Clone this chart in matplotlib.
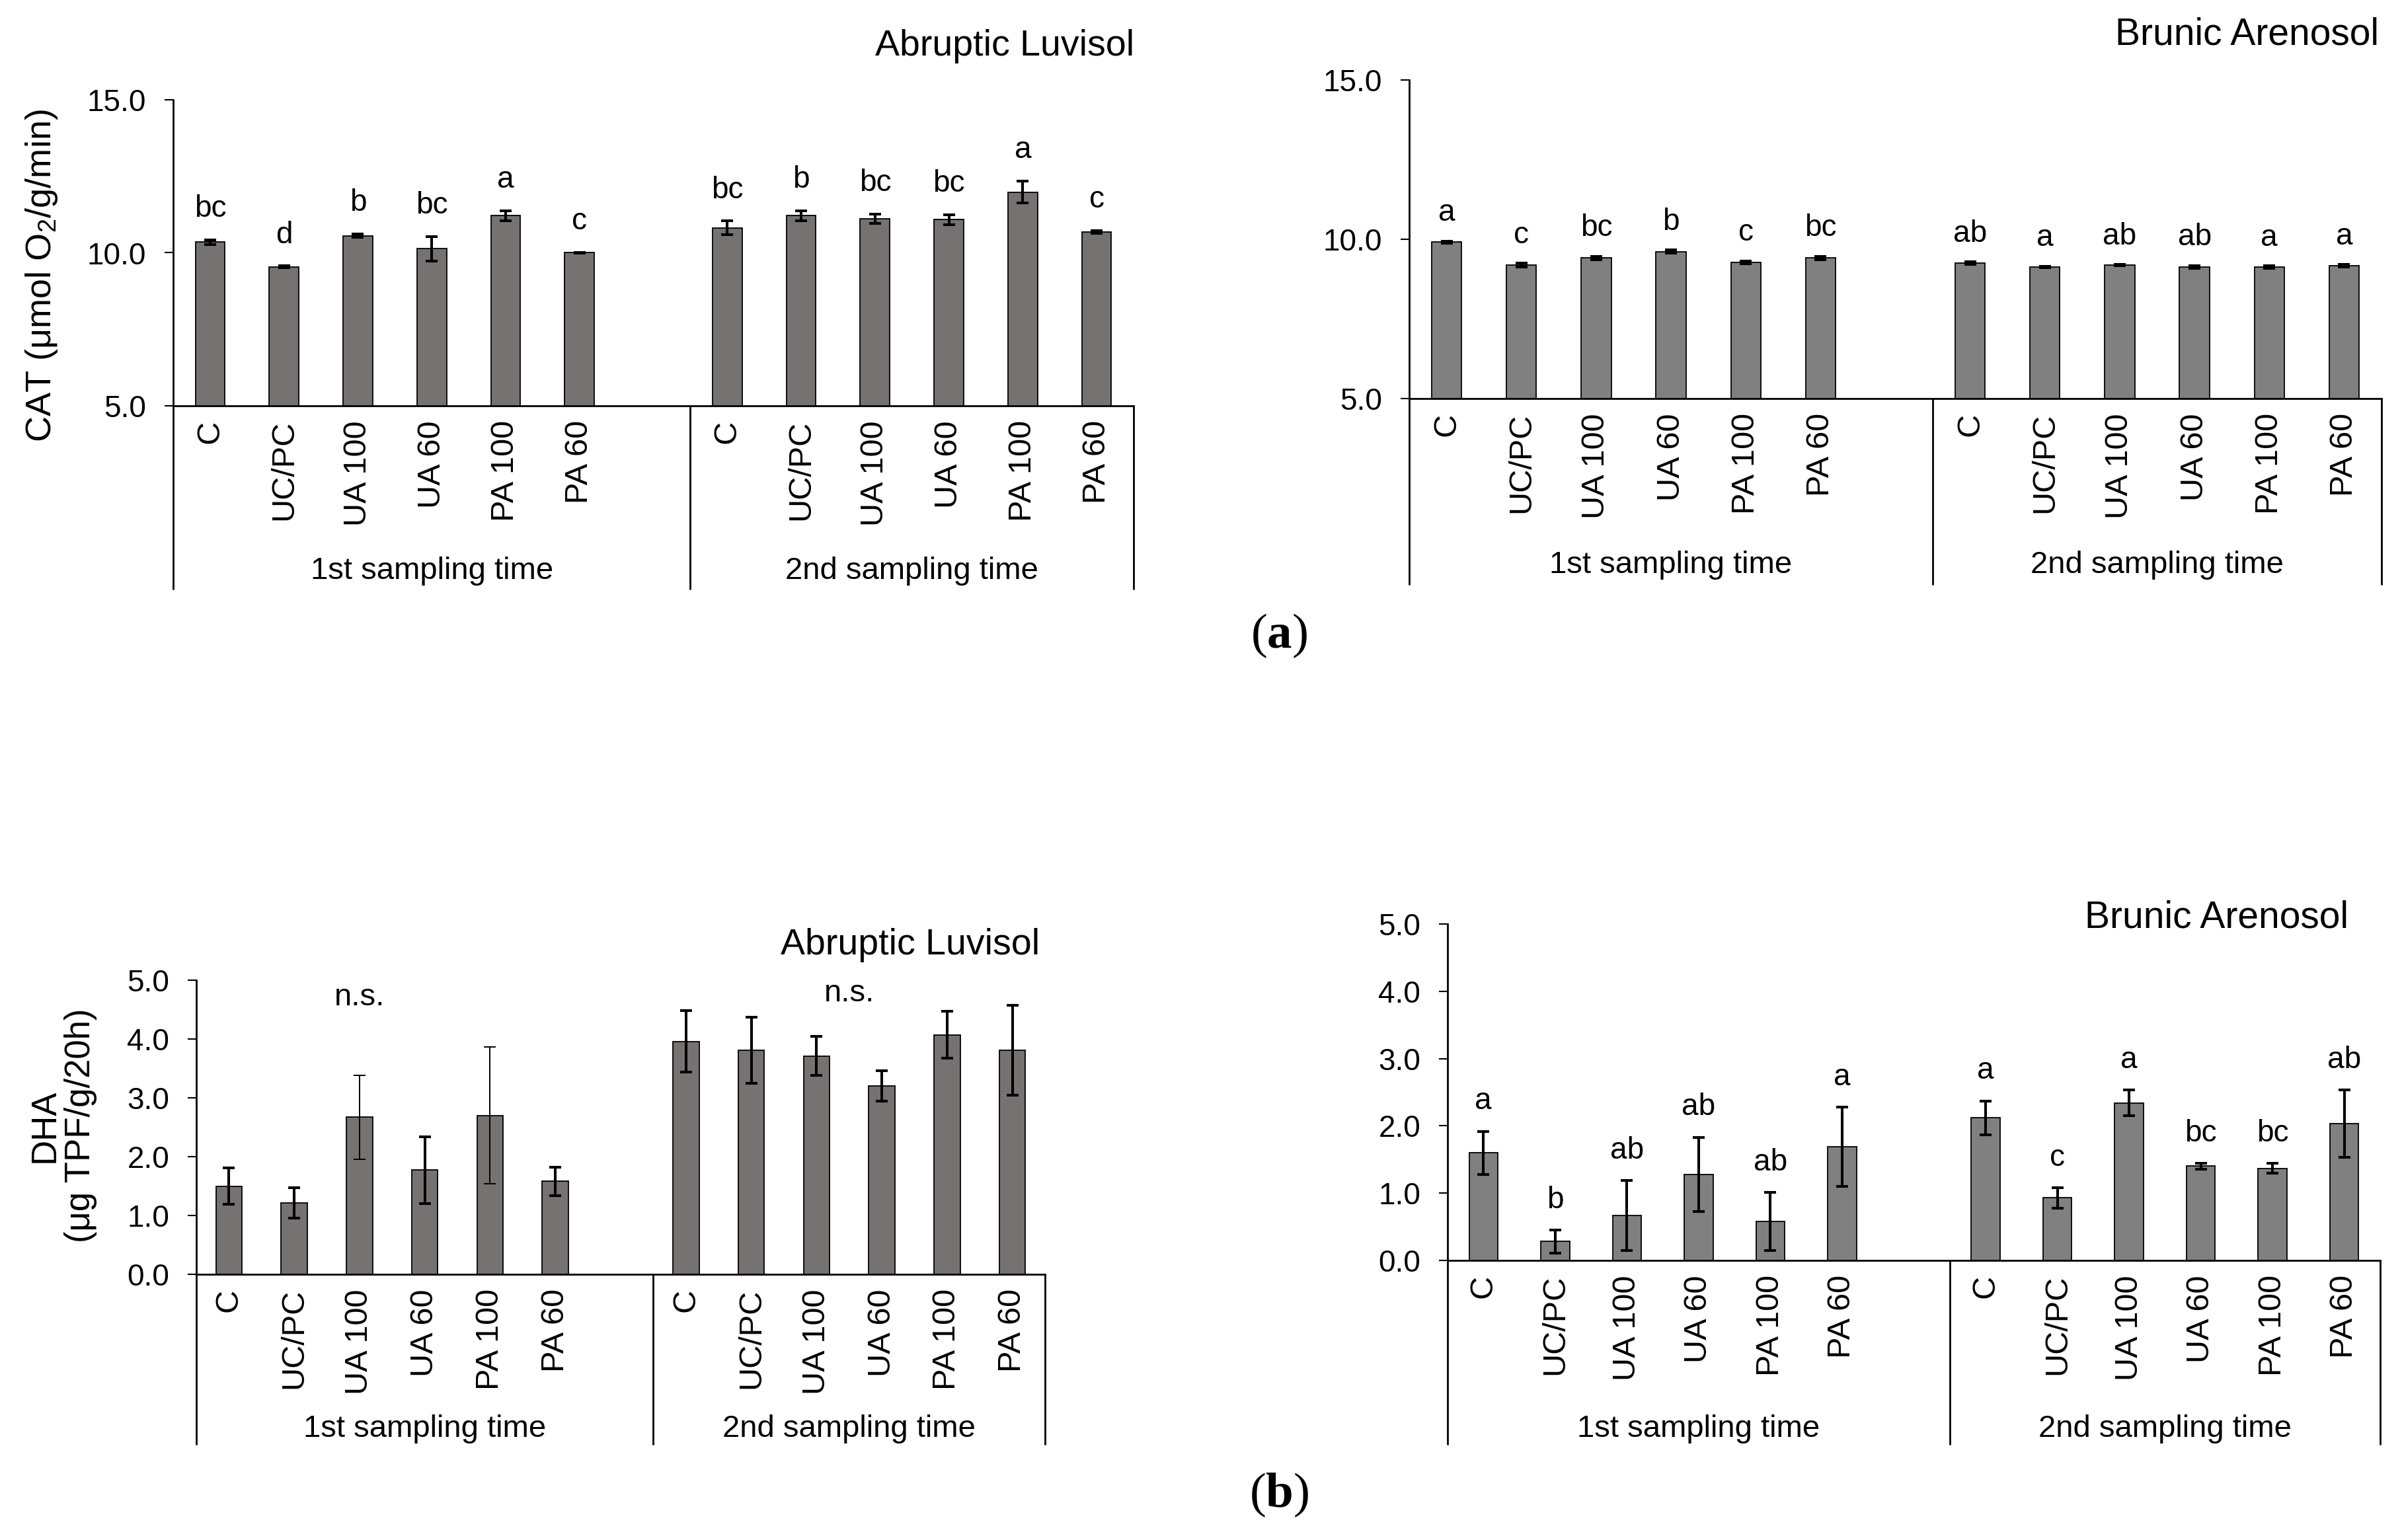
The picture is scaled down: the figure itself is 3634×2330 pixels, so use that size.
import matplotlib
matplotlib.use("Agg")
import matplotlib.pyplot as plt
import matplotlib.transforms as mtransforms

plt.rcParams['font.family'] = ['Liberation Sans', 'DejaVu Sans']
plt.rcParams['mathtext.fontset'] = 'custom'
plt.rcParams['mathtext.bf'] = 'Liberation Serif:bold'
plt.rcParams['mathtext.rm'] = 'Liberation Serif'

# ---------------- data ----------------
categories = ['C', 'UC/PC', 'UA 100', 'UA 60', 'PA 100', 'PA 60',
              'C', 'UC/PC', 'UA 100', 'UA 60', 'PA 100', 'PA 60']
slots = [0, 1, 2, 3, 4, 5, 7, 8, 9, 10, 11, 12]
groups = ['1st sampling time', '2nd sampling time']

cat_luv_mean = [10.35, 9.54, 10.56, 10.13, 11.21, 10.00, 10.82, 11.21, 11.12, 11.08, 11.98, 10.68]
cat_luv_err = [0.08, 0.03, 0.06, 0.40, 0.17, 0.01, 0.22, 0.17, 0.15, 0.16, 0.36, 0.04]
cat_luv_letters = ['bc', 'd', 'b', 'bc', 'a', 'c', 'bc', 'b', 'bc', 'bc', 'a', 'c']

cat_are_mean = [9.91, 9.19, 9.41, 9.61, 9.28, 9.41, 9.25, 9.13, 9.19, 9.13, 9.12, 9.17]
cat_are_err = [0.03, 0.06, 0.06, 0.05, 0.04, 0.06, 0.04, 0.02, 0.02, 0.04, 0.04, 0.04]
cat_are_letters = ['a', 'c', 'bc', 'b', 'c', 'bc', 'ab', 'a', 'ab', 'ab', 'a', 'a']

dha_luv_mean = [1.50, 1.21, 2.67, 1.77, 2.70, 1.58, 3.96, 3.81, 3.71, 3.20, 4.07, 3.81]
dha_luv_err = [0.31, 0.26, 0.71, 0.57, 1.16, 0.24, 0.52, 0.56, 0.33, 0.26, 0.40, 0.76]
dha_luv_notes = ['n.s.', 'n.s.']

dha_are_mean = [1.60, 0.28, 0.67, 1.28, 0.58, 1.69, 2.12, 0.93, 2.34, 1.40, 1.37, 2.03]
dha_are_err = [0.32, 0.17, 0.52, 0.55, 0.43, 0.59, 0.25, 0.15, 0.19, 0.04, 0.07, 0.50]
dha_are_letters = ['a', 'b', 'ab', 'ab', 'ab', 'a', 'a', 'c', 'a', 'bc', 'bc', 'ab']

cat_ticks = [5.0, 10.0, 15.0]
dha_ticks = [0.0, 1.0, 2.0, 3.0, 4.0, 5.0]

# ---------------- layout helpers ----------------
W, H = 3634, 2330
DPI = 100
fig = plt.figure(figsize=(W / DPI, H / DPI), dpi=DPI)
fig.patch.set_facecolor('white')


def rect(x0, y0, x1, y1):
    return [x0 / W, 1 - y1 / H, (x1 - x0) / W, (y1 - y0) / H]


def ftext(x, y, s, **kw):
    fig.text(x / W, 1 - y / H, s, **kw)


def panel(box, ylim, ticks, means, errs, color, box_bottom, group_y,
          letters=None, letter_off=24, thin=()):
    x0, y0, x1, y1 = box
    ax = fig.add_axes(rect(x0, y0, x1, y1))
    ax.set_xlim(-0.5, 12.5)
    ax.set_ylim(*ylim)
    ax.bar(slots, means, width=0.4, color=color, edgecolor='black',
           linewidth=1.3, zorder=2)
    for i, (xx, m, e) in enumerate(zip(slots, means, errs)):
        lw = 1.4 if i in thin else 2.9
        ax.errorbar([xx], [m], yerr=[e], fmt='none', ecolor='black',
                    elinewidth=lw, capsize=6.5, capthick=lw, zorder=3)
    ax.set_yticks(ticks)
    ax.set_yticklabels([f'{t:.1f}' for t in ticks])
    ax.tick_params(axis='y', direction='out', length=9.5, width=1.5,
                   labelsize=33, pad=20)
    ax.set_xticks(slots)
    ax.set_xticklabels(categories, rotation=90, fontsize=35)
    ax.tick_params(axis='x', length=0, pad=16)
    for s in ['top', 'right']:
        ax.spines[s].set_visible(False)
    for s in ['left', 'bottom']:
        ax.spines[s].set_linewidth(2)
    # group box below axis
    frac = (box_bottom - y1) / (y1 - y0)
    trans = mtransforms.blended_transform_factory(ax.transData, ax.transAxes)
    for xv in [-0.5, 6.5, 12.5]:
        ax.plot([xv, xv], [0, -frac], transform=trans, color='black',
                lw=2, clip_on=False, solid_capstyle='butt')
    gfrac = (group_y - y1) / (y1 - y0)
    for gx, g in zip([3.0, 9.5], groups):
        ax.text(gx, -gfrac, g, transform=trans, ha='center', va='center',
                fontsize=34)
    if letters is not None:
        for xx, m, e, l in zip(slots, means, errs, letters):
            ax.annotate(l, xy=(xx, m + e), xytext=(0, letter_off),
                        textcoords='offset points', ha='center',
                        va='baseline', fontsize=33)
    return ax


dark = '#767271'
mid = '#808080'

# (a) CAT
panel((262, 151, 1715, 614), (5, 15), cat_ticks, cat_luv_mean, cat_luv_err,
      dark, 892, 864, letters=cat_luv_letters, letter_off=25)
panel((2132, 121, 3603, 603), (5, 15), cat_ticks, cat_are_mean, cat_are_err,
      mid, 885, 855, letters=cat_are_letters, letter_off=22)

# (b) DHA
ax_bl = panel((297, 1483, 1581, 1928), (0, 5), dha_ticks, dha_luv_mean,
              dha_luv_err, dark, 2186, 2162, thin=(2, 4))
for gx, gy, note in zip([2.0, 9.5], [4.57, 4.64], dha_luv_notes):
    ax_bl.text(gx, gy, note, ha='center', va='baseline', fontsize=34)
panel((2190, 1398, 3601, 1907), (0, 5), dha_ticks, dha_are_mean, dha_are_err,
      mid, 2186, 2162, letters=dha_are_letters, letter_off=24)

# titles
ftext(1520, 70, 'Abruptic Luvisol', ha='center', va='center', fontsize=40)
ftext(3400, 53, 'Brunic Arenosol', ha='center', va='center', fontsize=41)
ftext(1377, 1430, 'Abruptic Luvisol', ha='center', va='center', fontsize=40)
ftext(3354, 1388, 'Brunic Arenosol', ha='center', va='center', fontsize=41)

# y labels
ftext(63, 417, 'CAT (\u03bcmol O$\\mathregular{_2}$/g/min)', rotation=90,
      ha='center', va='center', fontsize=39)
ftext(95, 1703, 'DHA\n(\u03bcg TPF/g/20h)', rotation=90, ha='center',
      va='center', fontsize=38, multialignment='center', linespacing=1.1)

# panel letters
ftext(1935, 962, '($\\mathbf{a}$)', ha='center', va='center', fontsize=54,
      family=['Liberation Serif', 'DejaVu Serif'])
ftext(1935, 2262, '($\\mathbf{b}$)', ha='center', va='center', fontsize=54,
      family=['Liberation Serif', 'DejaVu Serif'])

fig.savefig('out.png', dpi=DPI, facecolor='white')
